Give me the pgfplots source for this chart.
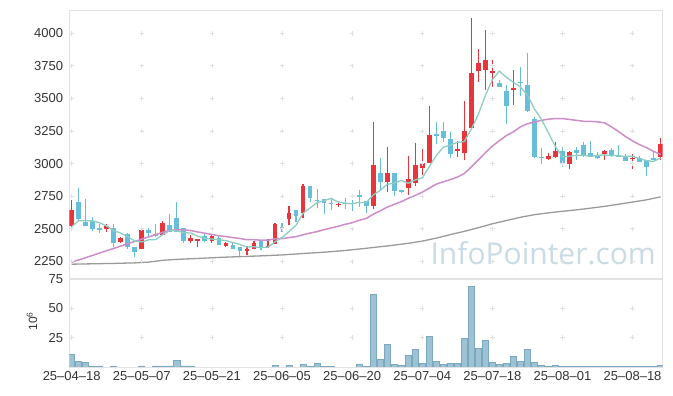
\documentclass[border=0pt]{standalone}
\usepackage{pgfplots}
\pgfplotsset{compat=1.18}
\usepackage{pgfplotstable}
\usepackage{fontspec}
\setmainfont{Liberation Sans}
\newfontfamily\wmfont{Open Sans}
\definecolor{cRed}{HTML}{E8343B}
\definecolor{cBlue}{HTML}{66BEDA}
\definecolor{cTeal}{HTML}{8ECDC3}
\definecolor{cPink}{HTML}{CC8DC9}
\definecolor{cGray}{HTML}{9A9A9A}
\definecolor{cVolF}{HTML}{9CC2D4}
\definecolor{cVolD}{HTML}{7AA8BE}
\definecolor{cFrame}{HTML}{E3E3E3}
\definecolor{cGrid}{HTML}{E0E0E0}
\definecolor{cText}{HTML}{333333}
\definecolor{cWm}{HTML}{C9DBE5}

\pgfplotstableread{
x o h l c
0 2521 2721 2491 2644
5 2501 2537 2473 2521
7 2401 2440 2394 2432
10 2342 2506 2342 2491
13 2455 2557 2450 2545
17 2409 2450 2388 2429
18 2404 2422 2358 2422
20 2404 2452 2388 2445
22 2371 2400 2358 2394
25 2332 2368 2299 2348
26 2348 2406 2343 2388
28 2358 2419 2356 2368
29 2381 2547 2381 2537
31 2578 2675 2527 2624
33 2624 2844 2580 2828
38 2679 2700 2665 2691
43 2677 3317 2650 2990
45 2862 3127 2785 2928
48 2809 3059 2757 2879
49 2854 3156 2825 2990
50 2969 3110 2912 3005
51 3005 3442 3005 3220
55 3099 3176 3053 3109
56 3084 3480 3027 3250
57 3270 4115 3265 3692
58 3713 3877 3628 3770
59 3718 4025 3565 3795
60 3697 3795 3585 3710
63 3564 3718 3449 3577
68 3033 3084 3028 3059
69 3053 3163 3040 3097
71 2995 3097 2956 3087
76 3071 3105 3028 3097
80 3033 3074 2956 3046
84 3050 3194 3028 3151
}\redT

\pgfplotstableread{
x o h l c
1 2706 2811 2567 2575
2 2554 2726 2521 2521
3 2560 2588 2486 2498
4 2506 2537 2465 2491
6 2506 2537 2363 2394
8 2457 2465 2348 2358
9 2360 2362 2281 2322
11 2491 2509 2440 2470
12 2457 2537 2435 2445
14 2527 2614 2475 2478
15 2583 2708 2475 2478
16 2506 2506 2388 2404
19 2442 2465 2396 2404
21 2429 2452 2375 2378
23 2378 2388 2345 2348
24 2360 2362 2281 2332
27 2409 2409 2337 2358
30 2516 2545 2478 2509
32 2644 2646 2555 2598
34 2828 2830 2708 2739
35 2721 2803 2657 2713
36 2726 2728 2614 2696
37 2698 2734 2645 2691
39 2698 2734 2655 2690
40 2700 2721 2640 2693
41 2759 2798 2664 2747
42 2713 2713 2620 2677
44 2928 3041 2798 2862
46 2928 2930 2750 2792
47 2798 2800 2778 2785
52 3227 3322 3147 3214
53 3250 3322 3168 3199
54 3189 3240 3040 3071
61 3616 3641 3588 3590
62 3554 3603 3301 3444
64 3628 3738 3518 3620
65 3603 3846 3398 3405
66 3341 3360 3040 3052
67 3054 3117 2997 3044
70 3097 3130 2977 2997
72 3105 3130 3028 3079
73 3143 3163 3053 3059
74 3079 3174 3053 3053
75 3064 3092 3033 3041
77 3105 3117 3053 3059
78 3063 3143 3053 3053
79 3059 3071 3023 3023
81 3046 3059 3015 3015
82 3028 3028 2905 2972
83 3043 3097 3028 3028
}\blueT

\pgfplotstableread{
x y
0 2516
1 2562
2 2562
3 2560
4 2546
5 2521
6 2485
7 2467
8 2439
9 2405
10 2399
11 2415
12 2417
13 2455
14 2486
15 2483
16 2470
17 2467
18 2442
19 2427
20 2421
21 2416
22 2409
23 2394
24 2379
25 2360
26 2362
27 2355
28 2359
29 2400
30 2432
31 2479
32 2527
33 2619
34 2660
35 2700
36 2715
37 2733
38 2706
39 2696
40 2692
41 2702
42 2700
43 2759
44 2794
45 2841
46 2850
47 2871
48 2849
49 2875
50 2890
51 2976
52 3062
53 3126
54 3142
55 3163
56 3169
57 3264
58 3378
59 3523
60 3643
61 3711
62 3662
63 3623
64 3588
65 3527
66 3420
67 3340
68 3236
69 3131
70 3050
71 3057
72 3064
73 3064
74 3055
75 3064
76 3066
77 3062
78 3061
79 3055
80 3056
81 3039
82 3022
83 3017
84 3044
}\maFive

\pgfplotstableread{
x y
0 2243
1 2261
2 2278
3 2296
4 2314
5 2332
6 2349
7 2367
8 2385
9 2402
10 2420
11 2438
12 2455
13 2473
14 2487
15 2492
16 2492
17 2486
18 2475
19 2466
20 2456
21 2446
22 2440
23 2432
24 2425
25 2416
26 2416
27 2412
28 2412
29 2423
30 2424
31 2432
32 2439
33 2454
34 2467
35 2478
36 2493
37 2506
38 2519
39 2534
40 2546
41 2565
42 2579
43 2611
44 2637
45 2666
46 2687
47 2708
48 2733
49 2756
50 2781
51 2811
52 2842
53 2860
54 2877
55 2896
56 2924
57 2974
58 3028
59 3083
60 3134
61 3176
62 3215
63 3244
64 3282
65 3306
66 3319
67 3332
68 3341
69 3346
70 3346
71 3339
72 3332
73 3325
74 3324
75 3321
76 3313
77 3282
78 3246
79 3207
80 3174
81 3145
82 3122
83 3094
84 3071
}\maTwenty

\pgfplotstableread{
x y
0 2228
3 2231
6 2234
9 2238
11 2244
13 2258
15 2265
18 2272
21 2280
24 2286
27 2292
30 2299
33 2310
36 2320
39 2333
42 2350
45 2368
48 2388
50 2405
52 2428
54 2455
56 2480
58 2508
60 2538
62 2563
64 2588
66 2608
68 2622
70 2634
72 2645
74 2658
76 2672
78 2688
80 2705
82 2722
84 2745
}\maLong

\pgfplotstableread{
x v
0 10.8
1 4.8
2 4.0
3 0.9
4 0.9
6 0.9
10 0.9
12 0.9
13 0.9
14 0.9
15 5.8
16 0.9
17 0.9
29 1.6
31 1.6
33 2.3
34 0.6
35 3.1
36 0.8
37 0.8
41 2.3
42 0.6
43 61.9
44 6.5
45 19.3
46 2.3
47 1.7
48 9.9
49 15.1
50 3.1
51 26.1
52 4.8
53 2.3
54 3.1
55 3.1
56 24.4
57 69.0
58 15.9
59 22.7
60 4.0
61 2.3
62 3.1
63 9.1
64 4.8
65 15.1
66 4.0
67 1.4
68 0.6
69 1.4
70 0.6
71 0.6
72 0.6
73 0.6
74 0.6
75 0.6
76 0.6
77 0.6
78 0.6
79 0.6
80 0.6
81 0.6
82 0.6
83 0.6
84 1.4
}\volT

\pgfplotsset{
  common/.style={
    scale only axis,
    width=593.4bp,
    xmin=-0.34, xmax=84.3,
    xtick={0,10,...,80},
    axis line style={draw=cFrame, line width=0.9bp},
    major tick length=0pt,
    tick style={draw=none},
    ticklabel style={font=\fontsize{13bp}{15bp}\selectfont, text=cText},
    yticklabel style={anchor=east, inner sep=0pt, xshift=-6bp},
    scaled ticks=false,
  },
  cross/.style={only marks, mark=+, mark size=2.2bp, color=cGrid, mark options={line width=0.8bp}},
}

\begin{document}
\begin{tikzpicture}
\path[use as bounding box] (0,0) rectangle (673bp,396bp);
\node[anchor=base east, font=\wmfont\fontsize{30bp}{30bp}\selectfont, text=cWm, inner sep=0pt] at (656bp,131bp) {InfoPointer.com};

\begin{axis}[common,
  at={(69.3bp,118bp)}, anchor=south west,
  height=268bp,
  ymin=2122, ymax=4179,
  xticklabels={},
  ytick={2250,2500,2750,3000,3250,3500,3750,4000},
  yticklabels={2250,2500,2750,3000,3250,3500,3750,4000},
]
\addplot[cross] coordinates {
(0,2250)(0,2500)(0,2750)(0,3000)(0,3250)(0,3500)(0,3750)(0,4000)
(10,2250)(10,2500)(10,2750)(10,3000)(10,3250)(10,3500)(10,3750)(10,4000)
(20,2250)(20,2500)(20,2750)(20,3000)(20,3250)(20,3500)(20,3750)(20,4000)
(30,2250)(30,2500)(30,2750)(30,3000)(30,3250)(30,3500)(30,3750)(30,4000)
(40,2250)(40,2500)(40,2750)(40,3000)(40,3250)(40,3500)(40,3750)(40,4000)
(50,2250)(50,2500)(50,2750)(50,3000)(50,3250)(50,3500)(50,3750)(50,4000)
(60,2250)(60,2500)(60,2750)(60,3000)(60,3250)(60,3500)(60,3750)(60,4000)
(70,2250)(70,2500)(70,2750)(70,3000)(70,3250)(70,3500)(70,3750)(70,4000)
(80,2250)(80,2500)(80,2750)(80,3000)(80,3250)(80,3500)(80,3750)(80,4000)
};
% wicks
\addplot[draw=none, mark=none, error bars/.cd, y dir=plus, y explicit, error mark=none,
  error bar style={draw=cRed, line width=1.1bp}]
  table[x=x, y=l, y error plus expr=\thisrow{h}-\thisrow{l}] {\redT};
\addplot[draw=none, mark=none, error bars/.cd, y dir=plus, y explicit, error mark=none,
  error bar style={draw=cBlue, line width=1.1bp}]
  table[x=x, y=l, y error plus expr=\thisrow{h}-\thisrow{l}] {\blueT};
% bodies
\addplot[draw=none, mark=none, error bars/.cd, y dir=plus, y explicit, error mark=none,
  error bar style={draw=cRed, line width=4.8bp}]
  table[x=x, y=o, y error plus expr=\thisrow{c}-\thisrow{o}] {\redT};
\addplot[draw=none, mark=none, error bars/.cd, y dir=plus, y explicit, error mark=none,
  error bar style={draw=cBlue, line width=4.8bp}]
  table[x=x, y=c, y error plus expr=\thisrow{o}-\thisrow{c}] {\blueT};
% moving averages
\addplot[cGray, line width=1.3bp, mark=none, line join=round] table[x=x,y=y] {\maLong};
\addplot[cPink, line width=1.5bp, mark=none, line join=round] table[x=x,y=y] {\maTwenty};
\addplot[cTeal, line width=1.3bp, mark=none, line join=round] table[x=x,y=y] {\maFive};
\end{axis}

\begin{axis}[common,
  at={(69.3bp,29bp)}, anchor=south west,
  height=88bp,
  ymin=0, ymax=75,
  ytick={25,50,75},
  yticklabels={25,50,75},
  xticklabels={25--04--18,25--05--07,25--05--21,25--06--05,25--06--20,25--07--04,25--07--18,25--08--01,25--08--18},
  xticklabel style={anchor=north, inner sep=0pt, yshift=-4.7bp},
  ylabel={10\textsuperscript{6}},
  ylabel style={at={(axis description cs:-0.0629,0.52)}, anchor=center, font=\fontsize{12bp}{14bp}\selectfont, text=cText},
]
\addplot[cross] coordinates {
(0,25)(0,50)(10,25)(10,50)(20,25)(20,50)(30,25)(30,50)(40,25)(40,50)
(50,25)(50,50)(60,25)(60,50)(70,25)(70,50)(80,25)(80,50)
};
\addplot[ybar, bar width=6.1bp, fill=cVolF, draw=cVolD, line width=0.7bp] table[x=x,y=v] {\volT};
\end{axis}
\end{tikzpicture}
\end{document}
